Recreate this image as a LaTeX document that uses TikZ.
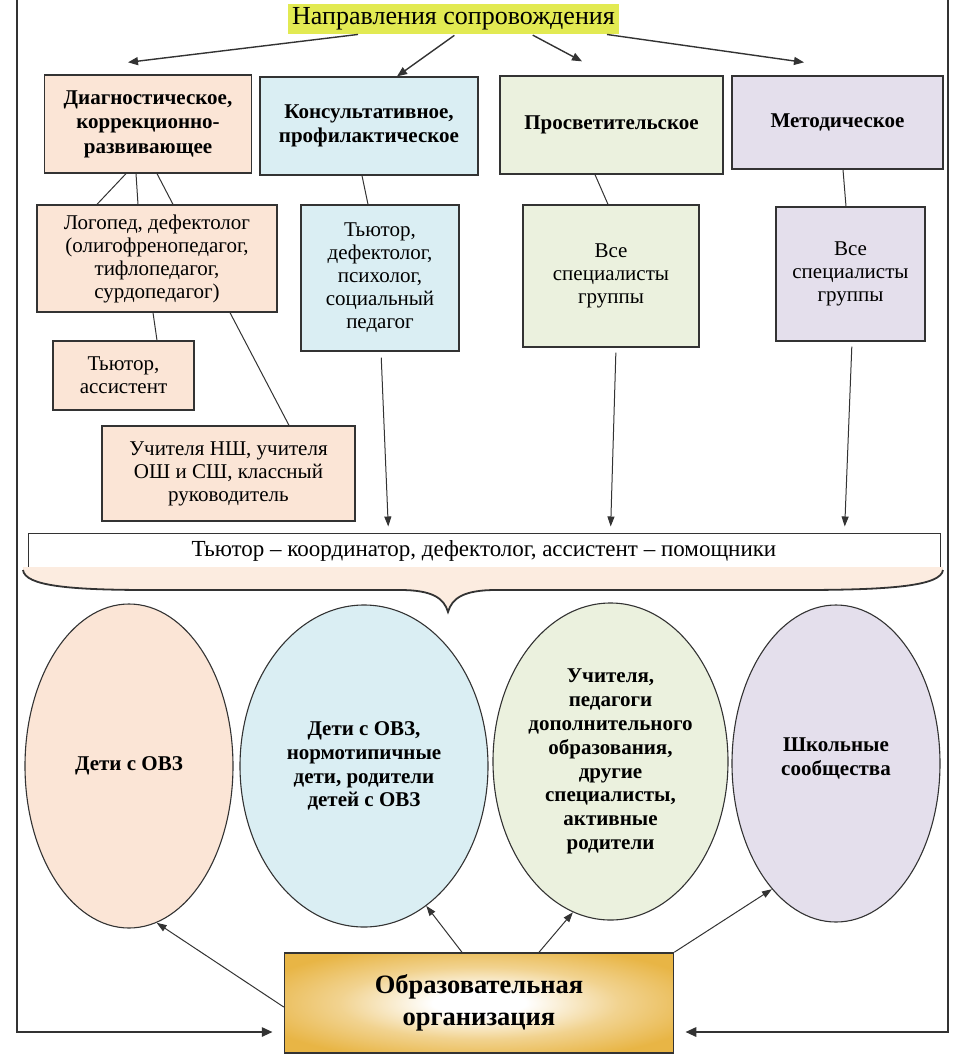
\documentclass[tikz,border=0pt]{standalone}
\usepackage{fontspec}
\setmainfont{Liberation Serif}
\usetikzlibrary{arrows.meta,shapes.geometric}

\definecolor{peach}{HTML}{FBE5D6}
\definecolor{lblue}{HTML}{DAEEF3}
\definecolor{lgreen}{HTML}{EBF1DE}
\definecolor{lav}{HTML}{E4DFEC}
\definecolor{titleyel}{HTML}{E2EA52}
\definecolor{gold}{HTML}{E8B545}
\definecolor{edge}{HTML}{333333}

\pgfdeclareradialshading{orgshade}{\pgfpoint{0bp}{0bp}}{color(0bp)=(white); color(6bp)=(white); color(18bp)=(gold!60!white); color(30bp)=(gold); color(50bp)=(gold)}

\begin{document}
\begin{tikzpicture}[x=1pt,y=-1pt,
  box/.style={draw=edge,line width=1.3pt,align=center,inner sep=2pt},
  head/.style={box,font=\fontsize{21}{24.5}\selectfont\bfseries},
  plain/.style={box,font=\fontsize{21}{23}\selectfont},
  oval/.style={ellipse,draw=edge,line width=1.1pt,align=center,inner sep=-30pt,font=\fontsize{21}{23.8}\selectfont\bfseries},
  link/.style={draw=edge,line width=1pt},
  arr/.style={draw=edge,line width=1.4pt,-{Triangle[length=10pt,width=8pt]}},
  thinarr/.style={draw=edge,line width=1pt,-{Triangle[length=10pt,width=7pt]}},
  frame/.style={draw=edge,line width=2.8pt,-{Triangle[length=11pt,width=9pt]}}]

  \useasboundingbox (0,0) rectangle (963,1063);

  \node[fill=titleyel,inner sep=0pt,minimum width=331pt,minimum height=30pt,font=\fontsize{26}{28}\selectfont] (title) at (453.5,19) {Направления сопровождения};

  \node[head,fill=peach,minimum width=207pt,minimum height=98pt]  (diag)  at (148,124)   {Диагностическое,\\коррекционно-\\развивающее};
  \node[head,fill=lblue,minimum width=218pt,minimum height=98pt]  (kons)  at (369,126)   {Консультативное,\\профилактическое};
  \node[head,fill=lgreen,minimum width=223pt,minimum height=98pt] (prosv) at (611.5,125) {Просветительское};
  \node[head,fill=lav,minimum width=211pt,minimum height=93pt]    (metod) at (837.5,122.5) {Методическое};

  \node[plain,fill=peach,minimum width=240pt,minimum height=107pt] (logo)  at (157,258.5)   {Логопед, дефектолог\\(олигофренопедагог,\\тифлопедагог,\\сурдопедагог)};
  \node[plain,fill=peach,minimum width=141pt,minimum height=69pt]  (tass)  at (123.5,375.5) {Тьютор,\\ассистент};
  \node[plain,fill=peach,minimum width=253pt,minimum height=95pt]  (uchit) at (228.5,473.5) {Учителя НШ, учителя\\ОШ и СШ, классный\\руководитель};
  \node[plain,fill=lblue,minimum width=158pt,minimum height=146pt] (tyut)  at (380,278)     {Тьютор,\\дефектолог,\\психолог,\\социальный\\педагог};
  \node[plain,fill=lgreen,minimum width=176pt,minimum height=142pt] (vse1) at (611,276)     {Все\\специалисты\\группы};
  \node[plain,fill=lav,minimum width=149pt,minimum height=134pt]   (vse2)  at (850.5,274)   {Все\\специалисты\\группы};

  \node[plain,fill=white,line width=1pt,inner sep=0pt,minimum width=912pt,minimum height=35pt,font=\fontsize{23}{25}\selectfont] (help) at (484,550.5) {Тьютор – координатор, дефектолог, ассистент – помощники};

  \fill[peach!75] (23,567) -- (23,570) .. controls (25,586) and (70,590) .. (150,590) -- (400,590)
    .. controls (432,590) and (444,598) .. (448,612) .. controls (452,598) and (464,590) .. (496,590)
    -- (800,590) .. controls (890,590) and (941,586) .. (943,570) -- (943,567) -- cycle;
  \draw[edge,line width=1.8pt] (23,570) .. controls (25,586) and (70,590) .. (150,590) -- (400,590)
    .. controls (432,590) and (444,598) .. (448,612) .. controls (452,598) and (464,590) .. (496,590)
    -- (800,590) .. controls (890,590) and (941,586) .. (943,570);

  \node[oval,fill=peach,minimum width=208pt,minimum height=324pt]  (e1) at (129,766)     {Дети с ОВЗ};
  \node[oval,fill=lblue,minimum width=248pt,minimum height=322pt]  (e2) at (364,766)     {Дети с ОВЗ,\\нормотипичные\\дети, родители\\детей с ОВЗ};
  \node[oval,fill=lgreen,minimum width=235pt,minimum height=317pt] (e3) at (610.5,761.5) {Учителя,\\педагоги\\дополнительного\\образования,\\другие\\специалисты,\\активные\\родители};
  \node[oval,fill=lav,minimum width=208pt,minimum height=317pt]    (e4) at (836,763.5)   {Школьные\\сообщества\\[-10pt]};

  \node[draw=edge,line width=1.5pt,shade,shading=orgshade,minimum width=389pt,minimum height=100pt,align=center,font=\fontsize{26.5}{32}\selectfont\bfseries] (org) at (479,1003) {Образовательная\\организация};

  \coordinate (fl) at (17,0);
  \coordinate (fr) at (948,0);

  \draw[arr,shorten <=2pt] ([xshift=-93.5pt]title.south) -- ([xshift=-20pt,yshift=12pt]diag.north);
  \draw[arr,shorten <=2pt] ([xshift=2.5pt]title.south)   -- ([xshift=28pt]kons.north);
  \draw[arr,shorten <=2pt] ([xshift=77.5pt]title.south)  -- ([xshift=-29.5pt,yshift=14pt]prosv.north);
  \draw[arr,shorten <=2pt] ([xshift=151.5pt]title.south) -- ([xshift=-33.5pt,yshift=13pt]metod.north);

  \draw[link] ([xshift=-22pt]diag.south) -- ([xshift=-60pt]logo.north);
  \draw[link] ([xshift=-12pt]diag.south) -- ([xshift=-19pt]logo.north);
  \draw[link] ([xshift=9pt]diag.south)   -- ([xshift=16pt]logo.north);
  \draw[link] ([xshift=-4pt]logo.south)  -- ([xshift=33.5pt]tass.north);
  \draw[link] ([xshift=73pt]logo.south)  -- ([xshift=60.5pt]uchit.north);
  \draw[link] ([xshift=-7pt]kons.south)  -- ([xshift=-12pt]tyut.north);
  \draw[link] ([xshift=-16.5pt]prosv.south) -- ([xshift=-3pt]vse1.north);
  \draw[link] ([xshift=5.5pt]metod.south) -- ([xshift=-4.5pt]vse2.north);

  \draw[thinarr,shorten <=6pt,shorten >=6pt] ([xshift=1pt]tyut.south)   -- ([xshift=-95.5pt]help.north);
  \draw[thinarr,shorten <=5pt,shorten >=6pt] ([xshift=5pt]vse1.south)   -- ([xshift=126.5pt]help.north);
  \draw[thinarr,shorten <=5pt,shorten >=6pt] ([xshift=1.5pt]vse2.south) -- ([xshift=360.5pt]help.north);

  \draw[thinarr] ([yshift=-4pt]org.west)   -- (e1.-80.8);
  \draw[thinarr] ([xshift=-17pt]org.north) -- (e2.-66.8);
  \draw[thinarr] ([xshift=60pt]org.north)  -- (e3.-104.3);
  \draw[thinarr] (org.north east)          -- (e4.-117.9);

  \draw[frame] (fl) |- ([xshift=-11pt,yshift=-29pt]org.west);
  \draw[frame] (fr) |- ([xshift=11pt,yshift=-29pt]org.east);
\end{tikzpicture}
\end{document}
